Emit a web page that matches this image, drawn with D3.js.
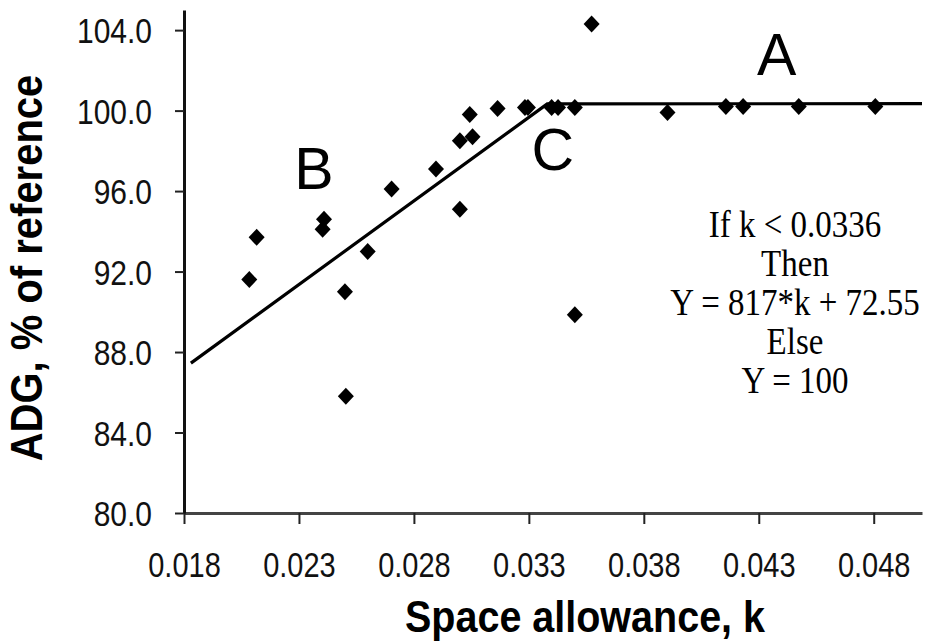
<!DOCTYPE html>
<html>
<head>
<meta charset="utf-8">
<script src="https://cdn.jsdelivr.net/npm/d3@7"></script>
<style>
  html, body { margin: 0; padding: 0; background: #fff; }
  svg { display: block; }
</style>
</head>
<body>
<svg id="chart" width="925" height="644"></svg>
<script>
// ---- Data ----
const spaceK = [0.02084, 0.02116, 0.02403, 0.02409, 0.0250, 0.02504, 0.02599, 0.02703, 0.02896,
  0.0300, 0.0300, 0.03043, 0.03055, 0.03164, 0.03283, 0.03296, 0.03399, 0.03427, 0.0350, 0.0350,
  0.03573, 0.03903, 0.04157, 0.04232, 0.04474, 0.04807];
const adgPct = [91.6, 93.7, 94.1, 94.6, 91.0, 85.8, 93.0, 96.1, 97.1,
  98.5, 95.1, 99.8, 98.7, 100.1, 100.15, 100.15, 100.15, 100.15, 100.15, 89.85,
  104.3, 99.9, 100.2, 100.2, 100.2, 100.2];
const fitK = [0.0183, 0.0338, 0.0501];
const fitY = [87.45, 100.33, 100.35];
const xTicks = [0.018, 0.023, 0.028, 0.033, 0.038, 0.043, 0.048];
const yTicks = [80, 84, 88, 92, 96, 100, 104];
const regionLabels = ["A", "B", "C"];
const regionK = [0.04378, 0.02365, 0.03404];
const regionY = [101.75, 96.1, 97.05];
const equationLines = ["If k < 0.0336", "Then", "Y = 817*k + 72.55", "Else", "Y = 100"];

// ---- Chart ----
const svg = d3.select("#chart");
const x = d3.scaleLinear().domain([0.018, 0.0501]).range([184, 922]);
const y = d3.scaleLinear().domain([80, 105]).range([513, 10]);

const sans = "'Liberation Sans', Arial, Helvetica, sans-serif";
const serif = "'Liberation Serif', 'Times New Roman', serif";

// X axis
const xAxis = svg.append("g")
  .attr("transform", `translate(0,${y(80)})`)
  .call(d3.axisBottom(x).tickValues(xTicks).tickFormat(d3.format(".3f")).tickSize(11).tickSizeOuter(0));
xAxis.select(".domain").attr("stroke", "#444").attr("stroke-width", 3);
xAxis.selectAll(".tick line").attr("stroke", "#222").attr("stroke-width", 2);
xAxis.selectAll(".tick text")
  .attr("font-family", sans).attr("font-size", 29).attr("fill", "#111")
  .attr("x", 0).attr("y", 0).attr("dy", 0)
  .attr("transform", "translate(0,64) scale(1,1.2)");

// Y axis
const yAxis = svg.append("g")
  .attr("transform", `translate(${x(0.018)},0)`)
  .call(d3.axisLeft(y).tickValues(yTicks).tickFormat(d3.format(".1f")).tickSize(9).tickSizeOuter(0));
yAxis.select(".domain").attr("stroke", "#111").attr("stroke-width", 3);
yAxis.selectAll(".tick line").attr("stroke", "#222").attr("stroke-width", 2);
yAxis.selectAll(".tick text")
  .attr("font-family", sans).attr("font-size", 30).attr("fill", "#111")
  .attr("x", 0).attr("y", 0).attr("dy", 0)
  .attr("transform", "translate(-32,12.5) scale(1,1.16)");

// Fit line
const line = d3.line().x(d => x(d[0])).y(d => y(d[1]));
svg.append("path")
  .datum(fitK.map((k, i) => [k, fitY[i]]))
  .attr("d", line)
  .attr("fill", "none")
  .attr("stroke", "#000")
  .attr("stroke-width", 3.2);

// Points (diamonds)
const diamond = "M0,-8.5L8,0L0,8.5L-8,0Z";
svg.append("g").selectAll("path")
  .data(spaceK.map((k, i) => [k, adgPct[i]]))
  .join("path")
  .attr("d", diamond)
  .attr("transform", d => `translate(${x(d[0])},${y(d[1])})`)
  .attr("fill", "#000");

// Region labels
svg.append("g").selectAll("text")
  .data(regionLabels)
  .join("text")
  .attr("x", (d, i) => x(regionK[i]))
  .attr("y", (d, i) => y(regionY[i]))
  .attr("text-anchor", "middle")
  .attr("font-family", sans)
  .attr("font-size", 59)
  .attr("fill", "#000")
  .text(d => d);

// Equation text
svg.append("g").selectAll("text")
  .data(equationLines)
  .join("text")
  .attr("transform", (d, i) => `translate(795,${237 + i * 39}) scale(1,1.12)`)
  .attr("text-anchor", "middle")
  .attr("font-family", serif)
  .attr("font-size", 33)
  .attr("fill", "#000")
  .text(d => d);

// Axis titles
svg.append("text")
  .attr("transform", "translate(585,632) scale(1,1.1)")
  .attr("text-anchor", "middle")
  .attr("font-family", sans)
  .attr("font-weight", "bold")
  .attr("font-size", 39.5)
  .attr("fill", "#000")
  .text("Space allowance, k");

svg.append("text")
  .attr("transform", "translate(42,268) rotate(-90) scale(1,1.1)")
  .attr("text-anchor", "middle")
  .attr("font-family", sans)
  .attr("font-weight", "bold")
  .attr("font-size", 40)
  .attr("fill", "#000")
  .text("ADG, % of reference");
</script>
</body>
</html>
